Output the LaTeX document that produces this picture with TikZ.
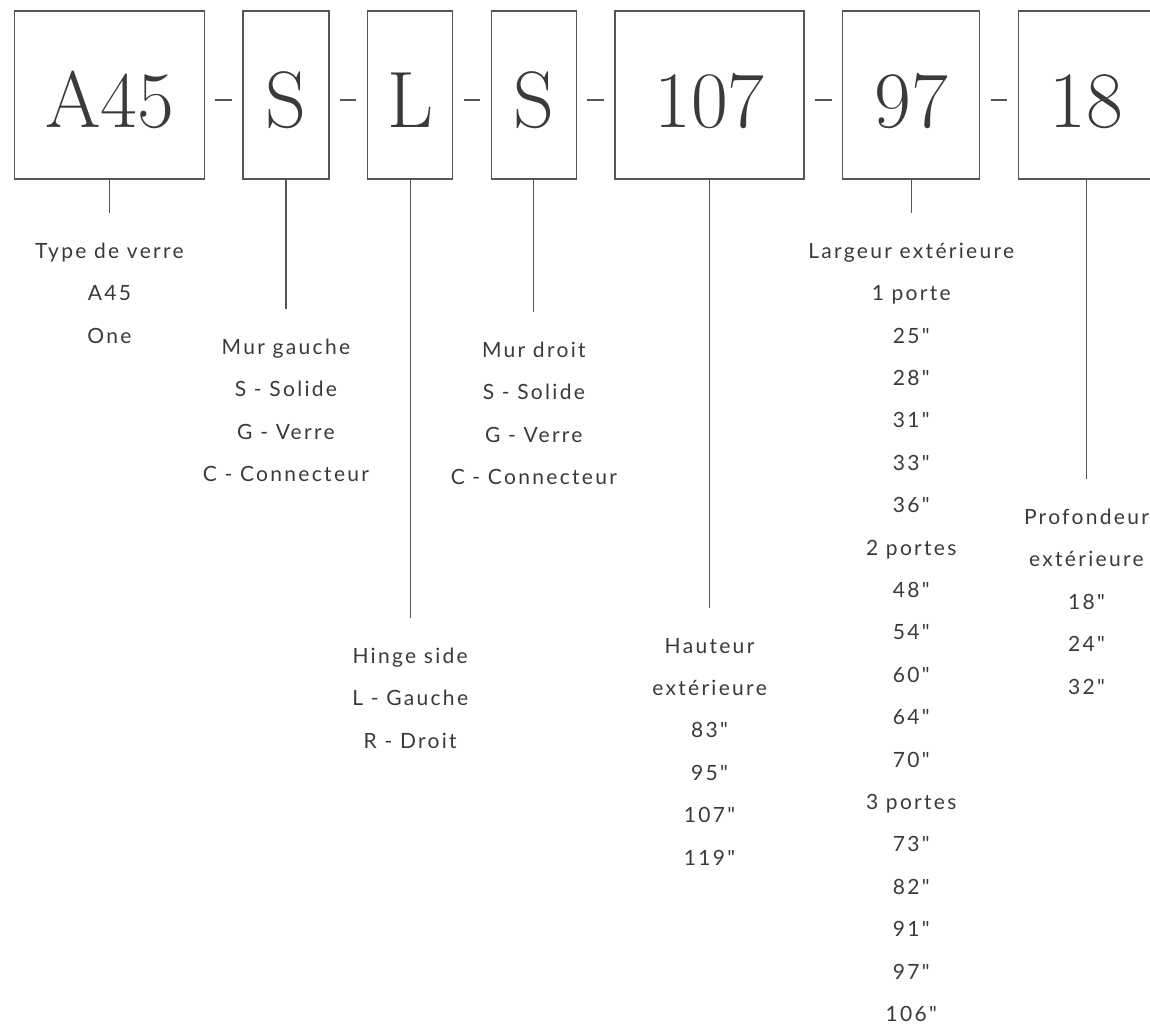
\documentclass[tikz,border=0pt]{standalone}
\usepackage{fontspec}
\setmainfont{Lato}[LetterSpace=11,Ligatures=TeXOff]
\newfontfamily\codefont{Latin Modern Roman}
\usetikzlibrary{positioning}
\definecolor{inkgray}{HTML}{3A3A3A}
\definecolor{linegray}{HTML}{555555}
\tikzset{
	partbox/.style={draw=linegray, line width=1.2pt, outer sep=0pt, inner sep=0pt,
		minimum height=168pt, text height=65pt, text depth=0pt, text=inkgray,
		font=\codefont\fontsize{80}{80}\selectfont},
	desc/.style={anchor=north, align=center, inner sep=0pt, outer sep=0pt, text=inkgray,
		font=\fontsize{21}{42.4}\selectfont, execute at begin node=\rule{0pt}{18pt}},
	lead/.style={draw=linegray, line width=1.2pt, shorten >=30pt},
	sep/.style={draw=linegray, line width=1.2pt}
}
\begin{document}
\begin{tikzpicture}[x=1pt,y=-1pt,node distance=38.7pt]
	\useasboundingbox (0,0) rectangle (1150,1031);
	
	\node[partbox, minimum width=189.5pt] (glass) at (109.5,95) {A45};
	\node[partbox, minimum width=86pt, right=of glass] (leftwall) {S};
	\node[partbox, minimum width=85pt, right=of leftwall] (hinge) {L};
	\node[partbox, minimum width=85pt, right=of hinge] (rightwall) {S};
	\node[partbox, minimum width=189pt, right=of rightwall] (height) {107};
	\node[partbox, minimum width=137pt, right=of height] (width) {97};
	\node[partbox, minimum width=136pt, right=of width] (depth) {18};
	
	\foreach \a in {glass,leftwall,hinge,rightwall,height,width}
		\draw[sep] ([xshift=11pt,yshift=-5pt]\a.east) -- ++(16.5,0);
	
	\node[desc, below=64pt of glass] (glasstxt) {Type de verre\\A45\\One};
	\node[desc, below=160pt of leftwall] (leftwalltxt) {Mur gauche\\S - Solide\\G - Verre\\C - Connecteur};
	\node[desc, below=469pt of hinge] (hingetxt) {Hinge side\\L - Gauche\\R - Droit};
	\node[desc, below=163pt of rightwall] (rightwalltxt) {Mur droit\\S - Solide\\G - Verre\\C - Connecteur};
	\node[desc, below=459pt of height] (heighttxt) {Hauteur\\extérieure\\83"\\95"\\107"\\119"};
	\node[desc, below=64pt of width] (widthtxt) {Largeur extérieure\\1 porte\\25"\\28"\\31"\\33"\\36"\\2 portes\\48"\\54"\\60"\\64"\\70"\\3 portes\\73"\\82"\\91"\\97"\\106"};
	\node[desc, below=330pt of depth] (depthtxt) {Profondeur\\extérieure\\18"\\24"\\32"};
	
	\foreach \a in {glass,leftwall,hinge,rightwall,height,width,depth}
		\draw[lead] (\a) -- (\a txt);
\end{tikzpicture}
\end{document}
